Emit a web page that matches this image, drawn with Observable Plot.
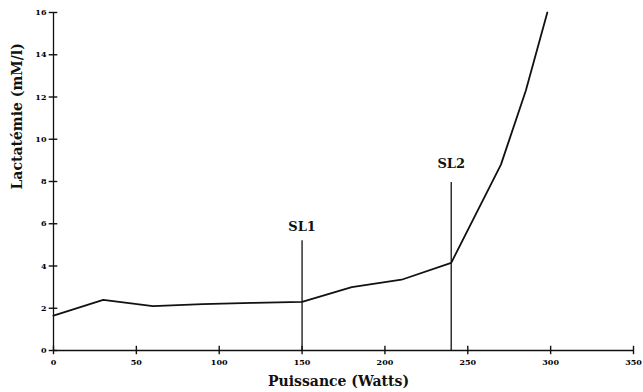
<!DOCTYPE html>
<html>
<head>
<meta charset="utf-8">
<script src="https://cdn.jsdelivr.net/npm/d3@7"></script>
<script src="https://cdn.jsdelivr.net/npm/@observablehq/plot@0.6"></script>
<style>
  html, body { margin: 0; padding: 0; background: #fff; }
  #chart svg { display: block; }
</style>
</head>
<body>
<div id="chart"></div>
<script>
// Data
const puissance = [0, 30, 60, 90, 120, 150, 180, 210, 240, 270, 285, 298];
const lactatemie = [1.65, 2.4, 2.1, 2.2, 2.25, 2.3, 3.0, 3.35, 4.15, 8.8, 12.3, 16.0];
const seuilLabels = ["SL1", "SL2"];
const seuilX = [150, 240];
const seuilTop = [5.2, 7.95];
const seuilLabelY = [5.85, 8.85];
const xTicks = [0, 50, 100, 150, 200, 250, 300, 350];
const yTicks = [0, 2, 4, 6, 8, 10, 12, 14, 16];

const curve = puissance.map((x, i) => ({x, y: lactatemie[i]}));
const seuils = seuilLabels.map((label, i) => ({label, x: seuilX[i], top: seuilTop[i], ly: seuilLabelY[i]}));

const font = "'DejaVu Serif', 'Liberation Serif', serif";

const chart = Plot.plot({
  width: 643,
  height: 392,
  marginLeft: 53,
  marginRight: 10,
  marginTop: 12,
  marginBottom: 42,
  style: {fontFamily: font, background: "#fff", color: "#000", overflow: "visible"},
  x: {domain: [0, 350], ticks: xTicks},
  y: {domain: [0, 16], ticks: yTicks},
  marks: [
    Plot.ruleY([0], {stroke: "#111", strokeWidth: 1.3}),
    Plot.ruleX([0], {y1: 0, y2: 16, stroke: "#111", strokeWidth: 1.3}),
    Plot.ruleX(xTicks, {x: d => d, y1: -0.2, y2: 0.2, stroke: "#111", strokeWidth: 1.4}),
    Plot.ruleY(yTicks, {y: d => d, x1: -2.6, x2: 2.6, stroke: "#111", strokeWidth: 1.4}),
    Plot.axisX({ticks: xTicks, tickSize: 0, tickPadding: 9, fontSize: 8, fontWeight: "bold", label: null}),
    Plot.axisY({ticks: yTicks, tickSize: 0, tickPadding: 7, fontSize: 8, fontWeight: "bold", label: null}),
    Plot.ruleX(seuils, {x: "x", y1: 0, y2: "top", stroke: "#111", strokeWidth: 1.3}),
    Plot.text(seuils, {x: "x", y: "ly", text: "label", fontSize: 13, fontWeight: "bold", fill: "#111"}),
    Plot.line(curve, {x: "x", y: "y", stroke: "#111", strokeWidth: 1.8}),
    Plot.text(["Puissance (Watts)"], {frameAnchor: "bottom", dy: 35, dx: -5, text: d => d, fontSize: 14, fontWeight: "bold", fill: "#111"}),
    Plot.text(["Lactatémie (mM/l)"], {frameAnchor: "left", dx: -36, dy: 8, rotate: -90, text: d => d, fontSize: 14, fontWeight: "bold", fill: "#111"})
  ]
});
document.getElementById("chart").append(chart);
</script>
</body>
</html>
